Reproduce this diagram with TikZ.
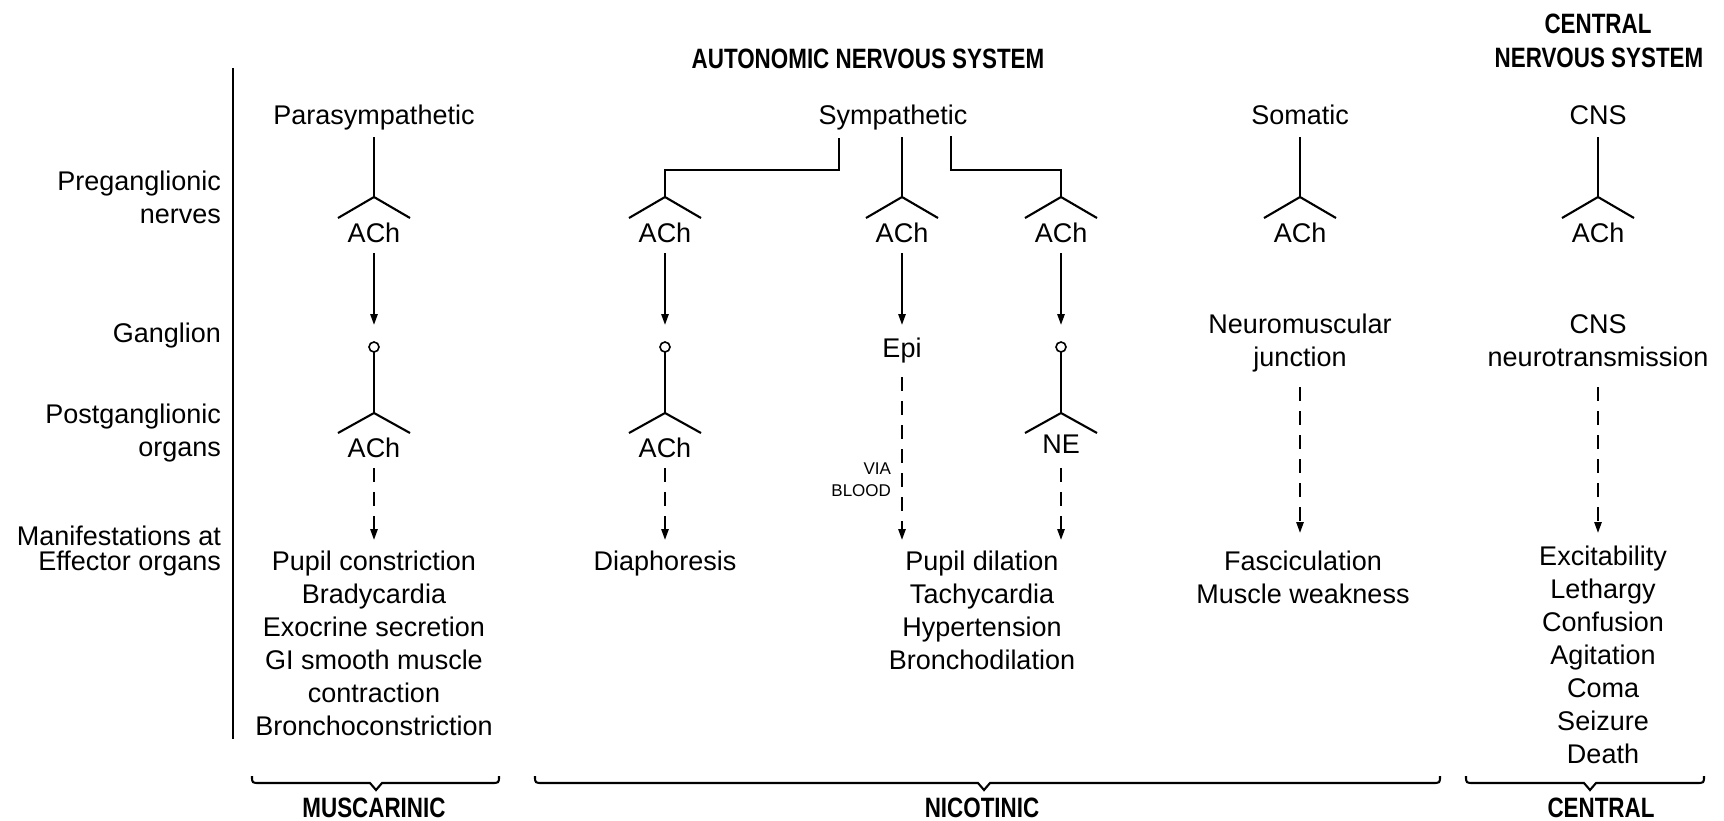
\documentclass[tikz,border=0pt]{standalone}
\usepackage{fontspec}
\setmainfont{Liberation Sans}
\newfontfamily\headfont[FakeStretch=0.8]{Liberation Sans}
\usetikzlibrary{arrows.meta}
\newcommand\mybrace[3]{%
  \draw (#1,776) .. controls (#1,783) .. ({#1+8},783) -- ({#3-6},783) -- (#3,790) -- ({#3+6},783) -- ({#2-8},783) .. controls (#2,783) .. (#2,776);}
\begin{document}
\begin{tikzpicture}[x=0.5pt,y=-0.5pt,line width=1.05pt,
  lbl/.style={font=\fontsize{13.5}{16.5}\selectfont,inner sep=0pt,anchor=base},
  rowlbl/.style={lbl,anchor=base east},
  head/.style={font=\headfont\bfseries\fontsize{14}{16}\selectfont,inner sep=0pt,anchor=base},
  tinylbl/.style={font=\fontsize{8.5}{10}\selectfont,inner sep=0pt,anchor=base east},
  arr/.style={-{Triangle[length=5.5pt,width=3.6pt]}},
  dsh/.style={arr,dash pattern=on 7pt off 5pt},
  gang/.style={circle,draw,fill=white,minimum size=5pt,inner sep=0pt,line width=0.8pt}]
\useasboundingbox (0,0) rectangle (1724,820);

% headings
\node[head] (ans) at (868,68) {AUTONOMIC NERVOUS SYSTEM};
\node[head] (cns1) at (1598,33) {CENTRAL};
\node[head] (cns2) at (1599,67) {NERVOUS SYSTEM};

% left axis
\coordinate (axT) at (233,68);
\coordinate (axB) at (233,739);
\draw (axT) -- (axB);
\node[rowlbl] (r1a) at (222,190) {Preganglionic};
\node[rowlbl] (r1b) at (222,223) {nerves};
\node[rowlbl] (r2) at (222,342) {Ganglion};
\node[rowlbl] (r3a) at (222,423) {Postganglionic};
\node[rowlbl] (r3b) at (222,456) {organs};
\node[rowlbl] (r4a) at (222,545) {Manifestations at};
\node[rowlbl] (r4b) at (222,570) {Effector organs};

% top labels
\node[lbl] (para) at (374,124) {Parasympathetic};
\node[lbl] (symp) at (893,124) {Sympathetic};
\node[lbl] (soma) at (1300,124) {Somatic};
\node[lbl] (cnst) at (1598,124) {CNS};

% preganglionic Y shapes
\foreach \n/\x in {P/374,A/665,E/902,N/1061,S/1300,C/1598}{
  \coordinate (\n-fork) at (\x,197);
  \coordinate (\n-armL) at ({\x-36},218);
  \coordinate (\n-armR) at ({\x+36},218);
  \node[lbl] (\n-ach) at (\x,242) {ACh};
  \draw (\n-armL) -- (\n-fork) -- (\n-armR);
}
\foreach \n/\x in {P/374,E/902,S/1300,C/1598}{
  \coordinate (\n-top) at (\x,137);
  \draw (\n-top) -- (\n-fork);
}
% sympathetic branches
\coordinate (A-top) at (839,138);
\coordinate (A-bend) at (839,170);
\coordinate (A-corner) at (665,170);
\draw (A-top) -- (A-bend) -- (A-corner) -- (A-fork);
\coordinate (N-top) at (951,136);
\coordinate (N-bend) at (951,170);
\coordinate (N-corner) at (1061,170);
\draw (N-top) -- (N-bend) -- (N-corner) -- (N-fork);

% solid arrows to ganglion level
\foreach \n/\x in {P/374,A/665,E/902,N/1061}{
  \coordinate (\n-out) at (\x,253);
  \coordinate (\n-in) at (\x,325);
  \draw[arr] (\n-out) -- (\n-in);
}

% ganglia and postganglionic Y
\foreach \n/\x in {P/374,A/665,N/1061}{
  \coordinate (\n-pfork) at (\x,413);
  \coordinate (\n-parmL) at ({\x-36},433);
  \coordinate (\n-parmR) at ({\x+36},433);
  \draw (\n-pfork) -- (\x,350);
  \node[gang] (\n-g) at (\x,347) {};
  \draw (\n-parmL) -- (\n-pfork) -- (\n-parmR);
  \coordinate (\n-dout) at (\x,468);
  \coordinate (\n-din) at (\x,540);
  \draw[dsh] (\n-dout) -- (\n-din);
}
\node[lbl] (P-post) at (374,457) {ACh};
\node[lbl] (A-post) at (665,457) {ACh};
\node[lbl] (N-post) at (1061,453) {NE};

% Epi via blood
\node[lbl] (epi) at (902,357) {Epi};
\coordinate (E-dout) at (902,377);
\coordinate (E-din) at (902,540);
\draw[dsh] (E-dout) -- (E-din);
\node[tinylbl] (via) at (892,474) {VIA};
\node[tinylbl] (blood) at (892,496) {BLOOD};

% somatic & CNS
\node[lbl] (nmj1) at (1300,333) {Neuromuscular};
\node[lbl] (nmj2) at (1300,366) {junction};
\node[lbl] (cnt1) at (1598,333) {CNS};
\node[lbl] (cnt2) at (1598,366) {neurotransmission};
\foreach \n/\x in {S/1300,C/1598}{
  \coordinate (\n-dout) at (\x,387);
  \coordinate (\n-din) at (\x,533);
  \draw[dsh] (\n-dout) -- (\n-din);
}

% effects
\foreach \t [count=\i] in {Pupil constriction,Bradycardia,Exocrine secretion,GI smooth muscle,contraction,Bronchoconstriction}
  \node[lbl] (pe\i) at (374,{537+33*\i}) {\t};
\node[lbl] (ae1) at (665,570) {Diaphoresis};
\foreach \t [count=\i] in {Pupil dilation,Tachycardia,Hypertension,Bronchodilation}
  \node[lbl] (ne\i) at (982,{537+33*\i}) {\t};
\foreach \t [count=\i] in {Fasciculation,Muscle weakness}
  \node[lbl] (se\i) at (1303,{537+33*\i}) {\t};
\foreach \t [count=\i] in {Excitability,Lethargy,Confusion,Agitation,Coma,Seizure,Death}
  \node[lbl] (ce\i) at (1603,{532+33*\i}) {\t};

% braces
\mybrace{252}{499}{376}
\mybrace{535}{1440}{984}
\mybrace{1466}{1704}{1590}
\node[head] (mus) at (374,817) {MUSCARINIC};
\node[head] (nic) at (982,817) {NICOTINIC};
\node[head] (cen) at (1601,817) {CENTRAL};
\end{tikzpicture}
\end{document}
